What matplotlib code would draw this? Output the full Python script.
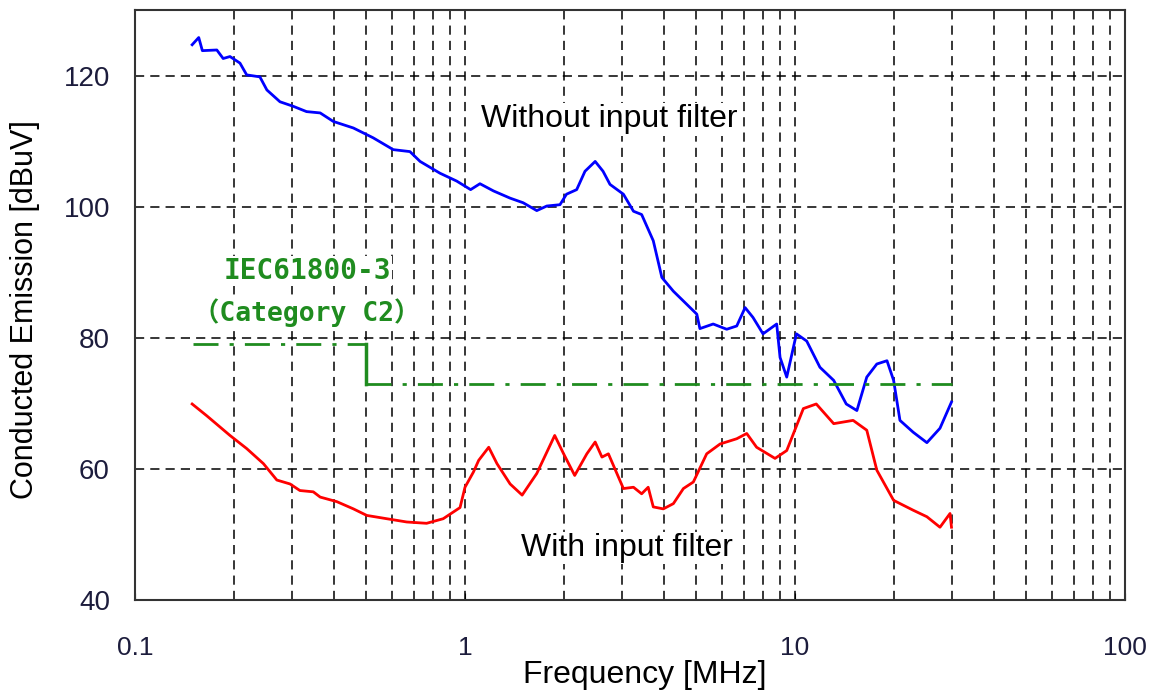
import numpy as np
import matplotlib
matplotlib.use("Agg")
import matplotlib.pyplot as plt
from matplotlib.ticker import FixedLocator, FixedFormatter, NullFormatter

# Without input filter (blue)
freq_without = [0.149, 0.156, 0.16, 0.177, 0.185, 0.194, 0.208, 0.218, 0.239, 0.251,
                0.275, 0.302, 0.331, 0.364, 0.399, 0.459, 0.527, 0.606, 0.681, 0.731,
                0.84, 0.944, 1.04, 1.11, 1.22, 1.37, 1.5, 1.65, 1.77, 1.94,
                2.03, 2.18, 2.31, 2.48, 2.62, 2.75, 3.02, 3.24, 3.43, 3.72,
                3.95, 4.28, 4.7, 5.04, 5.15, 5.65, 6.21, 6.66, 7.06, 7.46,
                8.0, 8.8, 9.01, 9.44, 10.1, 10.85, 11.9, 13.1, 14.3, 15.4,
                16.5, 17.7, 19.0, 19.9, 20.8, 22.8, 25.1, 27.5, 29.8]
db_without = [124.7, 125.8, 123.8, 123.9, 122.6, 122.9, 121.9, 120.1, 119.8, 117.8,
              116.0, 115.3, 114.5, 114.3, 113.0, 112.0, 110.5, 108.7, 108.4, 106.9,
              105.1, 103.9, 102.6, 103.5, 102.4, 101.3, 100.6, 99.4, 100.1, 100.3,
              101.9, 102.6, 105.4, 106.9, 105.4, 103.4, 101.9, 99.3, 98.8, 94.8,
              89.2, 87.1, 85.1, 83.6, 81.4, 82.1, 81.3, 81.8, 84.6, 83.1,
              80.6, 82.1, 77.0, 74.0, 80.6, 79.5, 75.5, 73.5, 69.9, 68.9,
              74.0, 76.0, 76.5, 73.5, 67.4, 65.6, 64.0, 66.2, 70.2]

# With input filter (red)
freq_with = [0.149, 0.165, 0.194, 0.218, 0.245, 0.269, 0.295, 0.316, 0.347, 0.364,
             0.409, 0.459, 0.504, 0.579, 0.666, 0.765, 0.859, 0.966, 1.0, 1.06,
             1.1, 1.18, 1.25, 1.37, 1.49, 1.65, 1.87, 1.99, 2.15, 2.34,
             2.48, 2.6, 2.72, 3.02, 3.24, 3.43, 3.59, 3.72, 3.99, 4.28,
             4.59, 4.92, 5.4, 5.93, 6.66, 7.14, 7.65, 8.7, 9.44, 10.6,
             11.6, 13.1, 15.0, 16.5, 17.7, 19.9, 22.8, 25.1, 27.5, 29.5, 29.8]
db_with = [69.9, 68.1, 65.1, 63.1, 60.8, 58.3, 57.7, 56.7, 56.5, 55.7,
           55.0, 53.9, 52.9, 52.4, 51.9, 51.7, 52.4, 54.1, 57.2, 59.5,
           61.3, 63.3, 60.8, 57.7, 56.0, 59.3, 65.1, 62.3, 59.0, 62.3,
           64.1, 61.8, 62.3, 57.0, 57.2, 56.2, 57.2, 54.2, 53.9, 54.7,
           57.0, 58.0, 62.3, 63.8, 64.6, 65.4, 63.3, 61.6, 62.8, 69.2,
           69.9, 66.9, 67.4, 65.9, 59.8, 55.2, 53.7, 52.7, 51.1, 53.2, 51.1]

# IEC61800-3 Category C2 limit
limit_freq = [0.15, 0.5, 30]
limit_db = [79, 73]

x_ticks = [0.1, 1, 10, 100]
x_ticklabels = ["0.1", "1", "10", "100"]
y_ticks = [40, 60, 80, 100, 120]

plt.rcParams['font.family'] = ['Liberation Sans', 'DejaVu Sans']

fig = plt.figure(figsize=(11.59, 6.95), dpi=100)
ax = fig.add_axes([135 / 1159, 95 / 695, 990 / 1159, 590 / 695])

ax.plot(freq_without, db_without, color='#0000ff', lw=2.0, zorder=3)
ax.plot(freq_with, db_with, color='#ff0000', lw=2.0, zorder=3)

green = '#1f8c1f'
ax.plot(limit_freq[:2], [limit_db[0]] * 2, color=green, lw=2.0,
        ls=(0, (9, 4, 1.5, 4)), zorder=3)
ax.plot(limit_freq[1:], [limit_db[1]] * 2, color=green, lw=2.0,
        ls=(0, (9, 4, 1.5, 4)), zorder=3)
ax.plot([limit_freq[1]] * 2, limit_db, color=green, lw=2.5, zorder=3)

ax.set_xscale('log')
ax.set_xlim(0.1, 100)
ax.set_ylim(40, 130)
ax.xaxis.set_major_locator(FixedLocator(x_ticks))
ax.xaxis.set_major_formatter(FixedFormatter(x_ticklabels))
ax.xaxis.set_minor_formatter(NullFormatter())
ax.set_yticks(y_ticks)

tick_color = '#1c1c3c'
ax.tick_params(axis='x', which='major', direction='in', length=5, pad=26,
               labelsize=19, labelcolor=tick_color)
ax.tick_params(axis='x', which='minor', direction='in', length=0)
ax.tick_params(axis='y', which='major', direction='in', length=0, pad=18,
               labelsize=20, labelcolor=tick_color)

ax.grid(True, which='both', axis='x', color='black', lw=1.1, ls=(0, (6, 4)))
ax.grid(True, which='major', axis='y', color='black', lw=1.1, ls=(0, (6, 4)))

for s in ax.spines.values():
    s.set_color('#333333')
    s.set_linewidth(1.5)

ax.set_xlabel('Frequency [MHz]', fontsize=23)
ax.xaxis.set_label_coords(0.515, -0.127)
ax.xaxis.label.set_va('center')
ax.set_ylabel('Conducted Emission [dBuV]', fontsize=22)
ax.yaxis.set_label_coords(-0.111, 0.492)
ax.yaxis.label.set_va('center')

box = dict(facecolor='white', edgecolor='none', pad=1)
ax.text(2.73, 113.3, 'Without input filter', fontsize=23, ha='center', va='center',
        bbox=box, zorder=4)
ax.text(3.10, 47.9, 'With input filter', fontsize=23, ha='center', va='center',
        bbox=box, zorder=4)
iec_font = ['DejaVu Sans Mono', 'Noto Sans CJK JP']
ax.text(0.332, 90.2, 'IEC61800-3', fontsize=20, family=iec_font, weight='bold',
        color=green, ha='center', va='center', bbox=box, zorder=4)
ax.text(0.332, 83.8, '（Category C2）', fontsize=19, family=iec_font, weight='bold',
        color=green, ha='center', va='center', bbox=box, zorder=4)

fig.savefig('out.png', dpi=100)
